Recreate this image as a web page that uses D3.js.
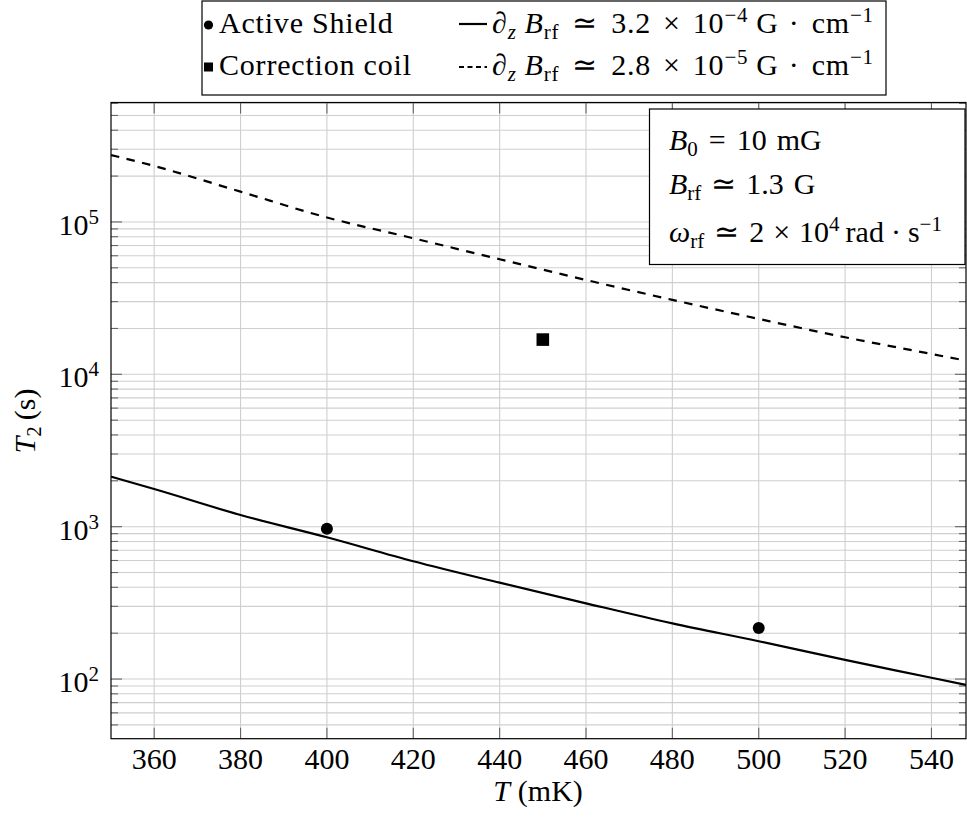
<!DOCTYPE html>
<html>
<head>
<meta charset="utf-8">
<script src="https://cdn.jsdelivr.net/npm/d3@7"></script>
<style>
  html, body { margin: 0; padding: 0; background: #fff; }
</style>
</head>
<body>
<svg id="chart" width="967" height="819"></svg>
<script>
// Temperature samples (mK) for the two gradient curves
const temps = [350, 360, 380, 400, 420, 440, 460, 480, 500, 520, 540, 548];
// T2 (s) for dBrf/dz ≈ 3.2e-4 G/cm
const t2HighGrad = [2128, 1766, 1193, 852, 593, 429, 314, 232, 177, 133.5, 102, 91.5];
// T2 (s) for dBrf/dz ≈ 2.8e-5 G/cm
const t2LowGrad = [275000, 233000, 158000, 107000, 78200, 56900, 41600, 30800, 23100, 17500, 13600, 12300];

// Measured points
const shieldT = [400, 500];
const shieldT2 = [970, 216];
const coilT = [450];
const coilT2 = [16900];

// Axis ticks
const xTicks = [360, 380, 400, 420, 440, 460, 480, 500, 520, 540];
const yMajor = [1e2, 1e3, 1e4, 1e5];
const yMajorExp = ["2", "3", "4", "5"];

const FONT = '"Liberation Serif", "Times New Roman", serif';
const svg = d3.select("#chart").style("font-family", FONT);
const F = 30, FS = 21;

const plot = { left: 111, right: 966, top: 102.5, bottom: 738.7 };

const x = d3.scaleLinear().domain([350, 548]).range([plot.left, plot.right]);
const y = d3.scaleLog().domain([40.6, 6.08e5]).range([plot.bottom, plot.top]);

// Minor log ticks (2..9 × 10^k) inside the domain
const yMinor = [];
for (let k = 1; k <= 5; k++) {
  for (let m = 2; m <= 9; m++) {
    const v = m * Math.pow(10, k);
    if (v >= y.domain()[0] && v <= y.domain()[1]) yMinor.push(v);
  }
}

function txt(parent, px, py, s, anchor) {
  return parent.append("text")
    .attr("x", px).attr("y", py)
    .attr("text-anchor", anchor || "start")
    .attr("font-size", F)
    .style("font-family", FONT)
    .style("white-space", "pre")
    .attr("fill", "#000")
    .text(s);
}

// Renders a label made of parts {s, it, pos, dx} with sub/superscripts
function mathText(parent, px, py, parts, anchor) {
  const t = txt(parent, px, py, null, anchor);
  let cur = 0;
  parts.forEach(p => {
    const target = p.pos === "sup" ? -11 : p.pos === "sub" ? 6 : 0;
    t.append("tspan")
      .attr("dy", target - cur)
      .attr("dx", p.dx || 0)
      .attr("font-size", p.pos ? FS : F)
      .attr("font-style", p.it ? "italic" : "normal")
      .style("font-family", FONT)
      .text(p.s);
    cur = target;
  });
  return t;
}

const grid = svg.append("g");
// Horizontal grid
grid.selectAll("line.h").data(yMinor.concat(yMajor)).enter().append("line")
  .attr("x1", plot.left).attr("x2", plot.right)
  .attr("y1", d => y(d)).attr("y2", d => y(d))
  .attr("stroke", "#cfcfcf").attr("stroke-width", 1.1);
// Vertical grid
grid.selectAll("line.v").data(xTicks).enter().append("line")
  .attr("x1", d => x(d)).attr("x2", d => x(d))
  .attr("y1", plot.top).attr("y2", plot.bottom)
  .attr("stroke", "#cfcfcf").attr("stroke-width", 1.1);

// Tick marks (inward, both sides)
const ticks = svg.append("g").attr("stroke", "#666").attr("stroke-width", 1.1);
xTicks.forEach(d => {
  ticks.append("line").attr("x1", x(d)).attr("x2", x(d)).attr("y1", plot.bottom).attr("y2", plot.bottom - 11);
  ticks.append("line").attr("x1", x(d)).attr("x2", x(d)).attr("y1", plot.top).attr("y2", plot.top + 11);
});
yMajor.forEach(d => {
  ticks.append("line").attr("x1", plot.left).attr("x2", plot.left + 11).attr("y1", y(d)).attr("y2", y(d));
  ticks.append("line").attr("x1", plot.right).attr("x2", plot.right - 11).attr("y1", y(d)).attr("y2", y(d));
});
yMinor.forEach(d => {
  ticks.append("line").attr("x1", plot.left).attr("x2", plot.left + 7).attr("y1", y(d)).attr("y2", y(d));
  ticks.append("line").attr("x1", plot.right).attr("x2", plot.right - 7).attr("y1", y(d)).attr("y2", y(d));
});

// Clip for curves
svg.append("clipPath").attr("id", "clip").append("rect")
  .attr("x", plot.left).attr("y", plot.top)
  .attr("width", plot.right - plot.left).attr("height", plot.bottom - plot.top);

const line = d3.line().x(d => x(d[0])).y(d => y(d[1])).curve(d3.curveMonotoneX);

svg.append("path")
  .datum(temps.map((t, i) => [t, t2HighGrad[i]]))
  .attr("clip-path", "url(#clip)")
  .attr("d", line).attr("fill", "none")
  .attr("stroke", "#000").attr("stroke-width", 2.2);

svg.append("path")
  .datum(temps.map((t, i) => [t, t2LowGrad[i]]))
  .attr("clip-path", "url(#clip)")
  .attr("d", line).attr("fill", "none")
  .attr("stroke", "#000").attr("stroke-width", 2.2)
  .attr("stroke-dasharray", "8.5,7.5");

// Markers
svg.selectAll("circle.shield").data(shieldT).enter().append("circle")
  .attr("cx", d => x(d)).attr("cy", (d, i) => y(shieldT2[i]))
  .attr("r", 6).attr("fill", "#000");
svg.selectAll("rect.coil").data(coilT).enter().append("rect")
  .attr("x", d => x(d) - 6.3).attr("y", (d, i) => y(coilT2[i]) - 6.3)
  .attr("width", 12.6).attr("height", 12.6).attr("fill", "#000");

// Axis frame
svg.append("rect")
  .attr("x", plot.left).attr("y", plot.top)
  .attr("width", plot.right - plot.left).attr("height", plot.bottom - plot.top)
  .attr("fill", "none").attr("stroke", "#000").attr("stroke-width", 1.2);

// Tick labels
xTicks.forEach(d => { txt(svg, x(d), 769, String(d), "middle"); });
yMajor.forEach((d, i) => {
  mathText(svg, 99, y(d) + 13, [{ s: "10" }, { s: yMajorExp[i], pos: "sup" }], "end");
});

// Axis titles
mathText(svg, 538, 801, [{ s: "T", it: true }, { s: "(mK)", dx: 8 }], "middle");
const yl = svg.append("g").attr("transform", "translate(35,421) rotate(-90)");
mathText(yl, 0, 0, [{ s: "T", it: true }, { s: "2", pos: "sub" }, { s: "(s)", dx: 6 }], "middle");

// Parameter box
const pb = svg.append("g");
pb.append("rect").attr("x", 649.5).attr("y", 109).attr("width", 315.5).attr("height", 155.5)
  .attr("fill", "#fff").attr("stroke", "#000").attr("stroke-width", 1.2);
mathText(pb, 669, 150, [{ s: "B", it: true }, { s: "0", pos: "sub" }, { s: "=", dx: 11 }, { s: "10", dx: 11 }, { s: "mG", dx: 10 }]);
mathText(pb, 669, 194, [{ s: "B", it: true }, { s: "rf", pos: "sub" }, { s: "≃", dx: 10 }, { s: "1.3", dx: 10 }, { s: "G", dx: 10 }]);
mathText(pb, 669, 242, [{ s: "ω", it: true }, { s: "rf", pos: "sub" }, { s: "≃", dx: 10 }, { s: "2", dx: 10 }, { s: "×", dx: 9 }, { s: "10", dx: 9 }, { s: "4", pos: "sup" }, { s: "rad", dx: 6 }, { s: "·", dx: 7 }, { s: "s", dx: 7 }, { s: "−1", pos: "sup" }]);

// Legend
const lg = svg.append("g");
lg.append("rect").attr("x", 202).attr("y", 1).attr("width", 684).attr("height", 94)
  .attr("fill", "#fff").attr("stroke", "#000").attr("stroke-width", 1.2);
lg.append("circle").attr("cx", 208.5).attr("cy", 25).attr("r", 4.6).attr("fill", "#000");
lg.append("rect").attr("x", 204).attr("y", 62.5).attr("width", 9).attr("height", 9).attr("fill", "#000");
txt(lg, 219, 33, "Active Shield").style("letter-spacing", "0.8px");
txt(lg, 219, 75, "Correction coil").style("letter-spacing", "0.8px");
lg.append("line").attr("x1", 459).attr("x2", 487).attr("y1", 24).attr("y2", 24)
  .attr("stroke", "#000").attr("stroke-width", 2.2);
lg.append("line").attr("x1", 459).attr("x2", 487).attr("y1", 67).attr("y2", 67)
  .attr("stroke", "#000").attr("stroke-width", 2.2).attr("stroke-dasharray", "5,3.5");
const gradParts = (mant, ex) => [
  { s: "∂", it: true }, { s: "z", it: true, pos: "sub" }, { s: "B", it: true, dx: 8 }, { s: "rf", pos: "sub" },
  { s: "≃", dx: 13 }, { s: mant, dx: 13 }, { s: "×", dx: 12 }, { s: "10", dx: 12 }, { s: ex, pos: "sup" },
  { s: "G", dx: 8 }, { s: "·", dx: 10 }, { s: "cm", dx: 12 }, { s: "−1", pos: "sup" }
];
mathText(lg, 492, 33, gradParts("3.2", "−4")).style("letter-spacing", "0.8px");
mathText(lg, 492, 75, gradParts("2.8", "−5")).style("letter-spacing", "0.8px");
</script>
</body>
</html>
